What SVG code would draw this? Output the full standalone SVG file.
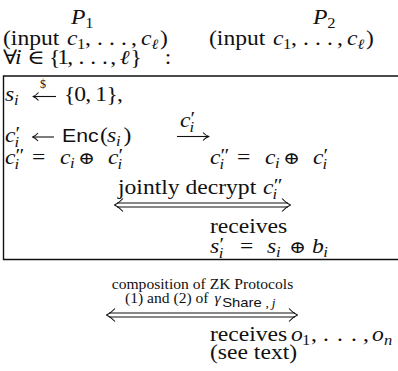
<svg xmlns="http://www.w3.org/2000/svg" width="398" height="371" viewBox="0 0 398 371">
<style>
.t{font-family:"Liberation Serif","DejaVu Serif",serif;font-size:20px;fill:#111}
.i{font-style:italic}
.sb{font-size:14px}
.sp{font-size:18px}
.op{font-size:17px}
.sf{font-family:"Liberation Sans","DejaVu Sans",sans-serif}
.sm{font-size:15px}
.ln{fill:none;stroke:#111;stroke-width:1.1}
.hd{fill:none;stroke:#111;stroke-width:1.1;stroke-linejoin:round}
.bx{fill:none;stroke:#111;stroke-width:1.4}
</style>
<rect width="398" height="371" fill="#fff"/>

<g id="party-p1" transform="translate(71,24) scale(1.18,1)">
  <text class="t i" x="0" y="0">P</text><text class="t sb" x="12" y="4">1</text>
</g>
<g id="party-p2" transform="translate(313,24) scale(1.18,1)">
  <text class="t i" x="0" y="0">P</text><text class="t sb" x="12" y="4">2</text>
</g>

<g id="input-p1" transform="translate(3,45) scale(1.18,1)">
  <text class="t" x="0" y="0">(input</text>
  <text class="t i" x="54.2" y="0">c</text><text class="t sb" x="62.7" y="4">1</text>
  <text class="t" x="69.5 79.7 89.8 100 108.5" y="0">,...,</text>
  <text class="t i" x="117" y="0">c</text><text class="t sb i" x="125.8" y="4">ℓ</text>
  <text class="t" x="133.1" y="0">)</text>
</g>
<g id="input-p2" transform="translate(209,45) scale(1.18,1)">
  <text class="t" x="0" y="0">(input</text>
  <text class="t i" x="54.2" y="0">c</text><text class="t sb" x="62.7" y="4">1</text>
  <text class="t" x="69.5 79.7 89.8 100 108.5" y="0">,...,</text>
  <text class="t i" x="117" y="0">c</text><text class="t sb i" x="125.8" y="4">ℓ</text>
  <text class="t" x="133.1" y="0">)</text>
</g>

<g id="forall" transform="translate(3,64) scale(1.18,1)">
  <text class="t" x="0" y="0">∀</text>
  <text class="t i" x="10.2" y="0">i</text>
  <text class="t" x="20.5" y="0">∈</text>
  <text class="t" x="39 46 54.5 64 74 84 91" y="0">{1,...,</text>
  <text class="t i" x="99" y="0">ℓ</text>
  <text class="t" x="108" y="0">}</text>
  <text class="t" x="137" y="0">:</text>
</g>

<g id="loop-box">
  <path class="bx" d="M399,76 H3.5 V259.5 H399"/>
</g>

<g id="step-sample">
  <g transform="translate(5,101) scale(1.18,1)">
    <text class="t i" x="0" y="0">s</text><text class="t sb i" x="7.6" y="4">i</text>
    <text class="t" x="50 58.6 68 76.4 86 95" y="0">{0,1},</text>
  </g>
  <text class="t" x="40" y="88" style="font-size:12px">$</text>
</g>

<g id="step-enc" transform="translate(5,142) scale(1.18,1)">
  <text class="t i" x="0" y="0">c</text><text class="t sp" x="9" y="-2">′</text><text class="t sb i" x="8" y="4.5">i</text>
  <text class="t sf" x="48.3" y="0" style="font-size:18px">Enc</text>
  <text class="t" x="80.5" y="0">(</text>
  <text class="t i" x="86.4" y="0">s</text><text class="t sb i" x="94" y="4">i</text>
  <text class="t" x="100.5" y="0">)</text>
</g>

<g id="msg-label" transform="translate(180,127) scale(1.18,1)">
  <text class="t i" x="0" y="0">c</text><text class="t sp" x="9" y="-2">′</text><text class="t sb i" x="8" y="4.5">i</text>
</g>

<g id="xor-p1" transform="translate(5,164) scale(1.18,1)">
  <text class="t i" x="0" y="0">c</text><text class="t sp" x="9" y="-2">″</text><text class="t sb i" x="8" y="4.5">i</text>
  <text class="t" x="22.9" y="0">=</text>
  <text class="t i" x="46.6" y="0">c</text><text class="t sb i" x="55" y="4">i</text>
  <text class="t op" x="61.9" y="0">⊕</text>
  <text class="t i" x="87.3" y="0">c</text><text class="t sp" x="96.3" y="-2">′</text><text class="t sb i" x="95.3" y="4.5">i</text>
</g>
<g id="xor-p2" transform="translate(210,164) scale(1.18,1)">
  <text class="t i" x="0" y="0">c</text><text class="t sp" x="9" y="-2">″</text><text class="t sb i" x="8" y="4.5">i</text>
  <text class="t" x="22.9" y="0">=</text>
  <text class="t i" x="46.6" y="0">c</text><text class="t sb i" x="55" y="4">i</text>
  <text class="t op" x="61.9" y="0">⊕</text>
  <text class="t i" x="87.3" y="0">c</text><text class="t sp" x="96.3" y="-2">′</text><text class="t sb i" x="95.3" y="4.5">i</text>
</g>

<g id="decrypt-label" transform="translate(118,194) scale(1.18,1)">
  <text class="t" x="0" y="0">jointly decrypt</text>
  <text class="t i" x="122.9" y="0">c</text><text class="t sp" x="131.9" y="-2">″</text><text class="t sb i" x="130.9" y="4.5">i</text>
</g>

<g id="receives-share">
  <g transform="translate(210,233) scale(1.18,1)">
    <text class="t" x="0" y="0">receives</text>
  </g>
  <g transform="translate(210,253) scale(1.18,1)">
    <text class="t i" x="0" y="0">s</text><text class="t sp" x="8" y="-2">′</text><text class="t sb i" x="7.5" y="4.5">i</text>
    <text class="t" x="25.4" y="0">=</text>
    <text class="t i" x="48.3" y="0">s</text><text class="t sb i" x="56" y="4">i</text>
    <text class="t op" x="66.9" y="0">⊕</text>
    <text class="t i" x="86.4" y="0">b</text><text class="t sb i" x="96" y="4">i</text>
  </g>
</g>

<g id="zk-label">
  <g transform="translate(202.5,289) scale(1.04,1)">
    <text class="t sm" x="0" y="0" text-anchor="middle">composition of ZK Protocols</text>
  </g>
  <g transform="translate(125,303) scale(1.04,1)">
    <text class="t sm" x="0" y="0">(1) and (2) of</text>
    <text class="t sm i" x="86" y="0">γ</text>
    <text class="t sf" x="93.5" y="3.5" style="font-size:13px" textLength="38" lengthAdjust="spacingAndGlyphs">Share</text>
    <text class="t" x="135" y="3.5" style="font-size:13px">,</text>
    <text class="t i" x="141" y="3.5" style="font-size:13px">j</text>
  </g>
</g>

<g id="output">
  <g transform="translate(210,341) scale(1.18,1)">
    <text class="t" x="0" y="0">receives</text>
    <text class="t i" x="68.6" y="0">o</text><text class="t sb" x="78" y="4">1</text>
    <text class="t" x="85.6 95.8 107.6 119.5 129.7" y="0">,...,</text>
    <text class="t i" x="137.3" y="0">o</text><text class="t sb i" x="147.5" y="4">n</text>
  </g>
  <g transform="translate(210,359) scale(1.18,1)">
    <text class="t" x="0" y="0">(see text)</text>
  </g>
</g>

<g id="connectors">
  <path class="ln" d="M56,96.5 H33.5"/>
  <path class="hd" d="M38.5,92.5 Q36,95.5 33,96.5 Q36,97.5 38.5,100.5"/>
  <path class="ln" d="M54,137 H33"/>
  <path class="hd" d="M38,133 Q35.5,136 32.5,137 Q35.5,138 38,141"/>
  <path class="ln" d="M177,136.5 H208.5"/>
  <path class="hd" d="M203,132.5 Q205.5,135.5 209,136.5 Q205.5,137.5 203,140.5"/>
  <path class="ln" d="M117,203 H288 M117,207 H288"/>
  <path class="hd" d="M123,198.5 Q119,203 114.5,205 Q119,207 123,211.5"/>
  <path class="hd" d="M282,198.5 Q286,203 290.5,205 Q286,207 282,211.5"/>
  <path class="ln" d="M109,313 H295 M109,317 H295"/>
  <path class="hd" d="M115,308.5 Q111,313 106.5,315 Q111,317 115,321.5"/>
  <path class="hd" d="M289,308.5 Q293,313 297.5,315 Q293,317 289,321.5"/>
</g>
</svg>
